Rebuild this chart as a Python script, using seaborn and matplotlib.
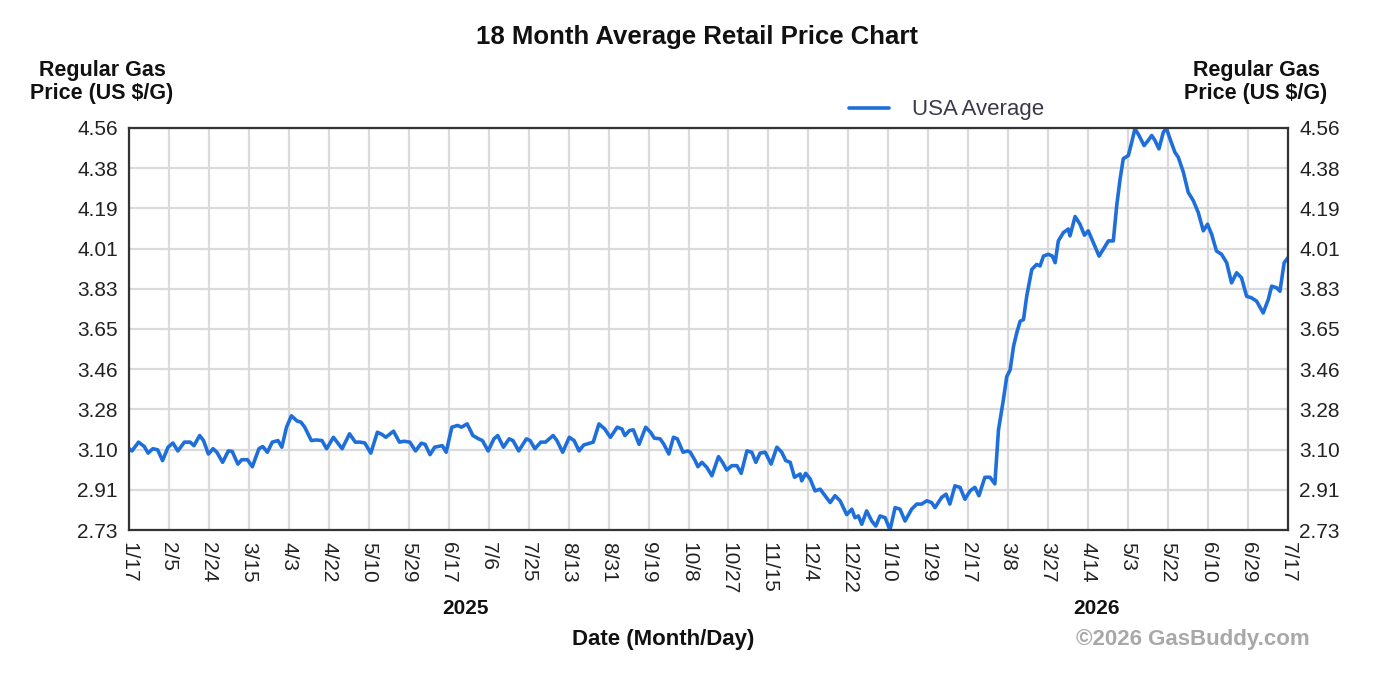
import numpy as np
import pandas as pd
import matplotlib
matplotlib.use("Agg")
import matplotlib.pyplot as plt
import seaborn as sns

# ---- data (days since 2025-01-17, USA average regular gas price) ----
days = [0, 1.4, 4.5, 7.2, 9.0, 11.2, 13.5, 15.8, 18.4, 20.7, 23.0, 26.1, 28.8, 30.6,
        33.3, 35.1, 37.4, 39.6, 41.4, 44.1, 46.8, 48.6, 51.3, 53.1, 55.8, 58.1, 61.2,
        63.0, 65.2, 67.5, 70.2, 72.0, 74.2, 76.5, 79.2, 81.0, 82.8, 85.9, 88.2, 90.9,
        93.1, 96.3, 100.4, 103.9, 106.6, 108.9, 111.1, 113.9, 117.0, 119.2, 121.0,
        124.6, 127.4, 129.6, 132.3, 135.0, 137.7, 139.5, 141.8, 144.0, 147.6, 149.4,
        152.1, 154.8, 156.6, 159.3, 162.0, 164.7, 166.5, 169.2, 171.9, 173.7, 176.4,
        179.1, 180.9, 183.6, 187.2, 189.0, 191.2, 194.0, 196.2, 199.8, 201.6, 204.3,
        207.4, 209.7, 212.0, 214.2, 216.9, 218.7, 221.4, 224.1, 226.8, 230.0, 232.2,
        233.6, 235.8, 237.6, 240.3, 243.4, 245.7, 247.5, 250.2, 252.0, 254.3, 256.5,
        258.3, 261.0, 263.3, 264.4, 266.7, 268.0, 269.9, 272.2, 274.6, 277.7, 279.6,
        281.6, 284.0, 286.4, 288.4, 291.1, 293.4, 295.3, 297.3, 299.7, 302.5, 305.2,
        307.5, 309.4, 311.5, 313.5, 316.2, 316.9, 318.8, 320.9, 323.2, 325.6, 327.9,
        330.3, 332.6, 335.0, 338.1, 340.5, 342.0, 343.6, 345.2, 347.5, 349.9, 351.8,
        353.8, 356.2, 358.5, 360.9, 363.2, 365.6, 368.7, 371.1, 373.4, 375.8, 378.1,
        379.7, 382.8, 384.9, 386.7, 389.1, 391.5, 393.8, 396.2, 398.5, 400.4, 403.2,
        405.6, 407.9, 409.6, 411.9, 413.5, 415.1, 416.7, 418.2, 419.8, 421.4, 422.9,
        425.3, 427.6, 429.2, 430.8, 433.1, 435.0, 436.3, 437.8, 440.2, 442.5, 443.3,
        445.7, 448.0, 450.1, 451.9, 454.3, 457.0, 459.0, 461.4, 463.7, 465.3, 466.9,
        468.4, 470.8, 472.4, 473.9, 475.8, 478.2, 480.2, 481.8, 483.3, 485.2, 487.3,
        488.8, 490.4, 492.7, 494.3, 496.7, 499.0, 501.4, 503.7, 506.1, 508.1, 510.0,
        512.3, 514.7, 517.1, 519.4, 521.8, 524.1, 526.5, 528.8, 531.2, 534.3, 536.7,
        538.3, 540.6, 542.2, 544.2, 546.0]

prices = [3.100, 3.090, 3.130, 3.110, 3.080, 3.100, 3.095, 3.046, 3.107, 3.126, 3.090,
          3.130, 3.130, 3.114, 3.160, 3.137, 3.076, 3.100, 3.084, 3.038, 3.090, 3.088,
          3.030, 3.050, 3.050, 3.018, 3.100, 3.110, 3.084, 3.130, 3.137, 3.107, 3.198,
          3.250, 3.226, 3.221, 3.198, 3.137, 3.140, 3.137, 3.100, 3.152, 3.100, 3.168,
          3.130, 3.130, 3.126, 3.080, 3.175, 3.165, 3.152, 3.180, 3.130, 3.134, 3.130,
          3.090, 3.125, 3.120, 3.073, 3.107, 3.114, 3.084, 3.198, 3.206, 3.198, 3.213,
          3.160, 3.145, 3.137, 3.090, 3.145, 3.160, 3.107, 3.145, 3.137, 3.090, 3.145,
          3.137, 3.100, 3.130, 3.130, 3.160, 3.137, 3.084, 3.152, 3.137, 3.090, 3.117,
          3.125, 3.130, 3.213, 3.190, 3.152, 3.198, 3.190, 3.160, 3.183, 3.186, 3.120,
          3.198, 3.175, 3.148, 3.145, 3.120, 3.076, 3.152, 3.145, 3.084, 3.090, 3.084,
          3.046, 3.018, 3.038, 3.015, 2.977, 3.064, 3.038, 3.003, 3.023, 3.023, 2.988,
          3.090, 3.084, 3.038, 3.080, 3.084, 3.030, 3.107, 3.084, 3.046, 3.038, 2.970,
          2.985, 2.954, 2.988, 2.962, 2.908, 2.916, 2.886, 2.855, 2.886, 2.863, 2.800,
          2.825, 2.786, 2.794, 2.756, 2.817, 2.771, 2.748, 2.794, 2.786, 2.730, 2.832,
          2.825, 2.771, 2.825, 2.848, 2.848, 2.863, 2.855, 2.832, 2.878, 2.893, 2.848,
          2.931, 2.924, 2.870, 2.908, 2.924, 2.886, 2.970, 2.970, 2.940, 3.185, 3.322,
          3.428, 3.459, 3.566, 3.627, 3.680, 3.688, 3.794, 3.916, 3.939, 3.932, 3.977,
          3.985, 3.977, 3.947, 4.046, 4.084, 4.100, 4.069, 4.157, 4.122, 4.072, 4.092,
          4.038, 3.977, 4.008, 4.046, 4.046, 4.206, 4.328, 4.420, 4.435, 4.496, 4.557,
          4.526, 4.480, 4.504, 4.526, 4.504, 4.465, 4.542, 4.557, 4.511, 4.450, 4.427,
          4.359, 4.267, 4.229, 4.176, 4.092, 4.122, 4.077, 4.000, 3.985, 3.947, 3.855,
          3.901, 3.878, 3.794, 3.787, 3.772, 3.718, 3.779, 3.840, 3.833, 3.817, 3.947,
          3.970]

x_tick_labels = ["1/17", "2/5", "2/24", "3/15", "4/3", "4/22", "5/10", "5/29", "6/17",
                 "7/6", "7/25", "8/13", "8/31", "9/19", "10/8", "10/27", "11/15", "12/4",
                 "12/22", "1/10", "1/29", "2/17", "3/8", "3/27", "4/14", "5/3", "5/22",
                 "6/10", "6/29", "7/17"]
y_tick_labels = ["2.73", "2.91", "3.10", "3.28", "3.46", "3.65", "3.83", "4.01", "4.19",
                 "4.38", "4.56"]
series_name = "USA Average"

df = pd.DataFrame({"day": days, "price": prices})

sns.set_theme(style="white")
plt.rcParams["font.family"] = ["Liberation Sans", "DejaVu Sans"]

fig = plt.figure(figsize=(13.86, 6.74), dpi=100)
ax = fig.add_axes([129 / 1386, 1 - 530 / 674, (1288 - 129) / 1386, (530 - 128) / 674])

sns.lineplot(data=df, x="day", y="price", ax=ax, color="#1f6fdb", linewidth=2.6,
             label=series_name, sort=False)

ax.set_xlim(0, 546)
ax.set_ylim(2.73, 4.56)
ax.set_xticks(np.linspace(0, 546, len(x_tick_labels)))
ax.set_xticklabels(x_tick_labels, rotation=-90)
ax.set_yticks(np.linspace(2.73, 4.56, len(y_tick_labels)))
ax.set_yticklabels(y_tick_labels)
ax.set_xlabel("")
ax.set_ylabel("")

ax.grid(True, color="#dadada", linewidth=1.6)
ax.set_axisbelow(True)
for s in ax.spines.values():
    s.set_color("#333333")
    s.set_linewidth(1.6)

ax.tick_params(axis="both", length=0, labelsize=15, colors="#222222")
ax.tick_params(axis="y", pad=8, labelright=True, right=False)
ax.tick_params(axis="x", pad=9)

leg = ax.legend(loc="center", bbox_to_anchor=(0.683, 1 - 110 / 674),
                bbox_transform=fig.transFigure, frameon=False, fontsize=16,
                handlelength=1.8, handletextpad=1.0)
for t in leg.get_texts():
    t.set_color("#3a3a48")

fig.text(0.503, 1 - 37 / 674, "18 Month Average Retail Price Chart", ha="center",
         va="center", fontsize=18.5, fontweight="bold", color="#111111")
fig.text(102 / 1386, 1 - 82 / 674, "Regular Gas\nPrice (US $/G)", ha="center",
         va="center", fontsize=15.5, fontweight="bold", color="#111111", linespacing=1.15)
fig.text(1256 / 1386, 1 - 82 / 674, "Regular Gas\nPrice (US $/G)", ha="center",
         va="center", fontsize=15.5, fontweight="bold", color="#111111", linespacing=1.15)
fig.text(466 / 1386, 1 - 608 / 674, "2025", ha="center", va="center", fontsize=15,
         fontweight="bold", color="#111111")
fig.text(1097 / 1386, 1 - 608 / 674, "2026", ha="center", va="center", fontsize=15,
         fontweight="bold", color="#111111")
fig.text(663 / 1386, 1 - 640 / 674, "Date (Month/Day)", ha="center", va="center",
         fontsize=16, fontweight="bold", color="#111111")
fig.text(1193 / 1386, 1 - 640 / 674, "©2026 GasBuddy.com", ha="center", va="center",
         fontsize=16, fontweight="bold", color="#a8a8a8")

fig.savefig("out.png", dpi=100)
